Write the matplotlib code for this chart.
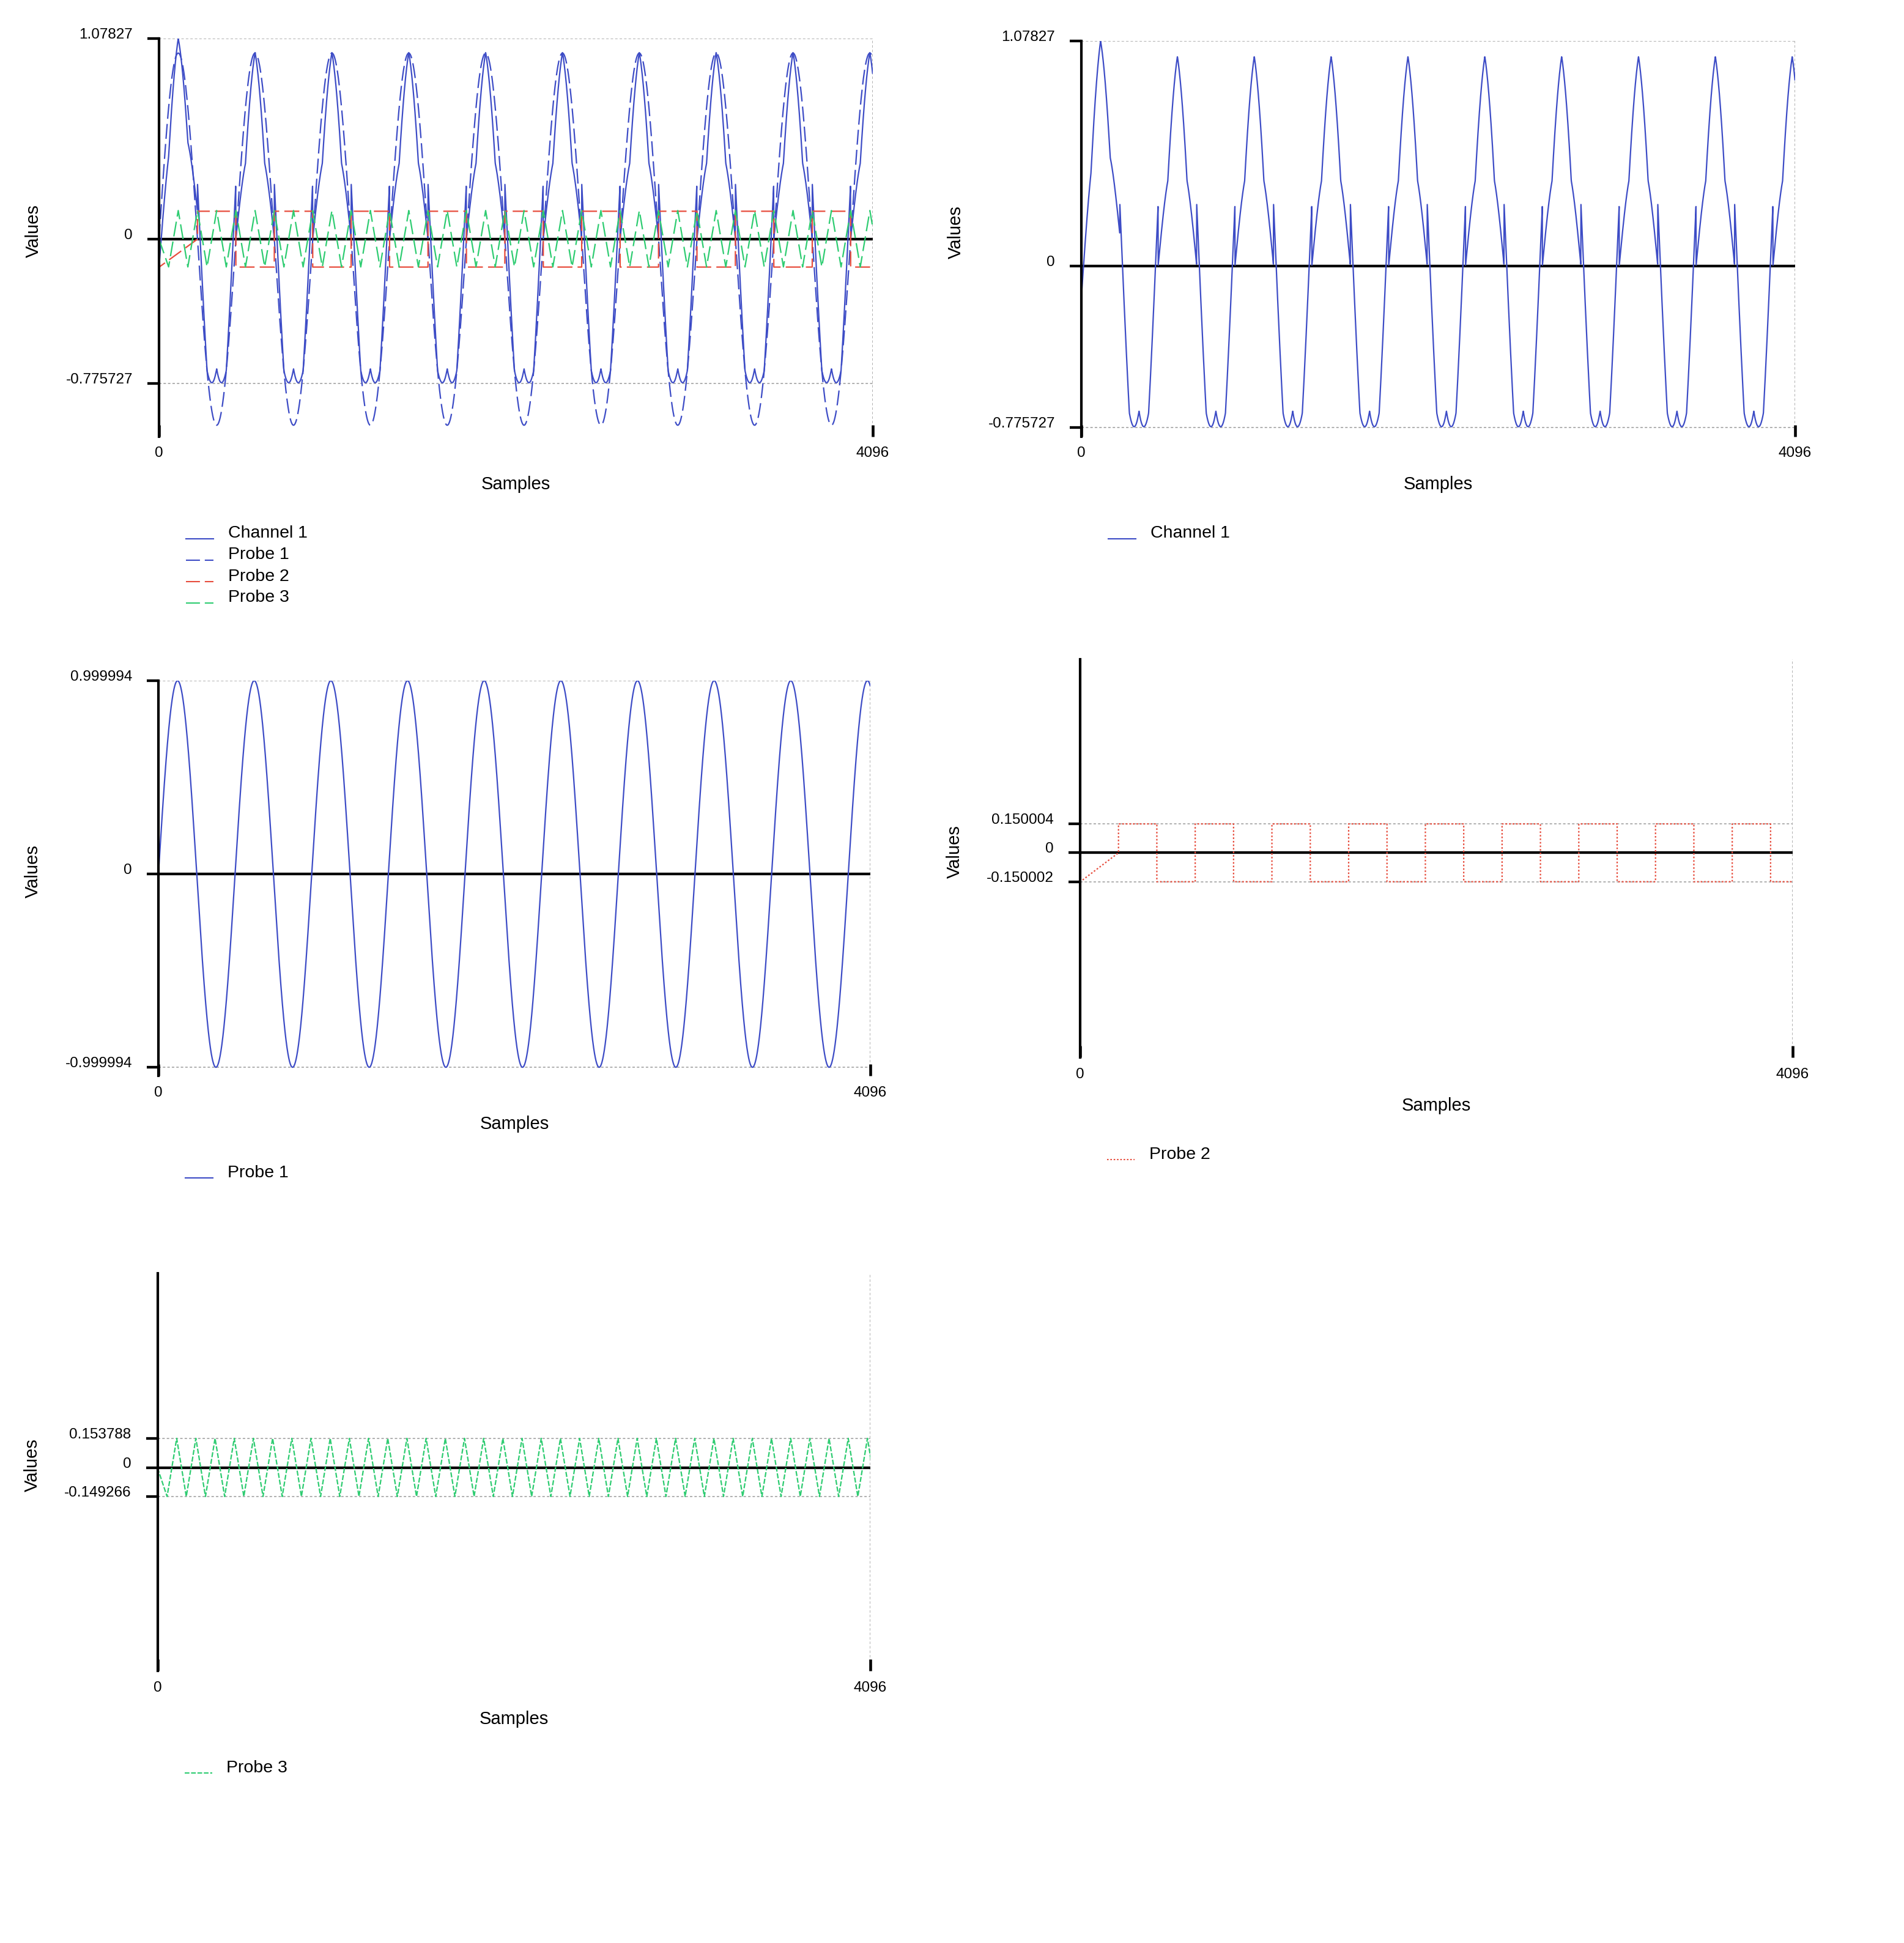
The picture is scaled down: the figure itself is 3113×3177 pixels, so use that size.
import numpy as np
import matplotlib.pyplot as plt
from matplotlib.lines import Line2D

plt.rcParams['font.family'] = ['Liberation Sans', 'DejaVu Sans']

# values
n_samples = 4096
x_ticks = [0, 4096]
x_labels = ['0', '4096']

probe1_amplitude = 0.999994
probe1_period = 441          # samples per cycle

probe2_high = 0.150004
probe2_low = -0.150002
probe2_half_period = 220.5   # samples between edges

probe3_peak = 0.153788
probe3_trough = -0.149266
probe3_half_period = 55.125  # samples between corners

ch1_ticks = [1.07827, 0, -0.775727]
ch1_labels = ['1.07827', '0', '-0.775727']
p1_ticks = [0.999994, 0, -0.999994]
p1_labels = ['0.999994', '0', '-0.999994']
p2_ticks = [0.150004, 0, -0.150002]
p2_labels = ['0.150004', '0', '-0.150002']
p3_ticks = [0.153788, 0, -0.149266]
p3_labels = ['0.153788', '0', '-0.149266']

BLUE = '#3d4cc6'
RED = '#e74c3c'
GREEN = '#2ecc71'
GRID = '#b0b0b0'

# build the signals
t = np.arange(n_samples)
probe1 = probe1_amplitude * np.sin(2 * np.pi * t / probe1_period)

# square wave corners (starts with a ramp up to the first edge)
p2_x = [0, 1, probe2_half_period]
p2_y = [0, probe2_low, 0]
level = probe2_high
edge = probe2_half_period
while edge < n_samples:
    nxt = edge + probe2_half_period
    p2_x += [edge, nxt]
    p2_y += [level, level]
    level = probe2_low if level == probe2_high else probe2_high
    edge = nxt

# triangle corners
p3_x = [0]
p3_y = [0]
j = 1
while p3_x[-1] < n_samples:
    p3_x.append(j * probe3_half_period)
    p3_y.append(probe3_trough if j % 2 else probe3_peak)
    j += 1

probe2 = np.interp(t, p2_x, p2_y)
probe3 = np.interp(t, p3_x, p3_y)
channel1 = probe1 + probe2 + probe3

# layout in pixels
W, H = 3113, 3177
DPI = 100
fig = plt.figure(figsize=(W / DPI, H / DPI), dpi=DPI)

LONG_DASH = (0, (11, 3.8))
SHORT_DASH = (0, (3.7, 1.3))
DOTS = (0, (1.2, 1.4))


def px_axes(x0, x1, top, bottom):
    return fig.add_axes([x0 / W, 1 - bottom / H, (x1 - x0) / W, (bottom - top) / H])


def setup(ax, box, ticks, labels, ylim):
    x0, x1, top, bottom = box
    ax.set_xlim(0, n_samples)
    ax.set_ylim(*ylim)
    for s in ['top', 'right', 'bottom']:
        ax.spines[s].set_visible(False)
    ax.spines['left'].set_linewidth(3)
    ax.spines['left'].set_zorder(4)
    ax.set_yticks(ticks, labels=labels, va='baseline')
    ax.set_xticks(x_ticks, labels=x_labels)
    ax.tick_params(axis='y', direction='out', length=13.9, width=3.1, pad=17, labelsize=17.5)
    ax.tick_params(axis='x', direction='in', length=13.9, width=3.3, pad=12, labelsize=17.5)
    for v in ticks:
        if v != 0:
            ax.axhline(v, color=GRID, lw=1.4, ls=(0, (2.06, 1.7)), zorder=1)
    ax.axvline(n_samples, color=GRID, lw=1.4, ls=(0, (2.06, 1.7)), zorder=1)
    ax.axhline(0, color='black', lw=3.1, zorder=1.5)
    ax.patch.set_alpha(0)
    fig.text((x0 + x1) / 2 / W, 1 - (bottom + 79) / H, 'Samples',
             ha='center', va='center', fontsize=21)
    fig.text((x0 - 205) / W, 1 - ((top + bottom) / 2 - 11) / H, 'Values',
             ha='center', va='center', rotation=90, fontsize=21)


def legend(box, entries):
    x0, x1, top, bottom = box
    for i, (label, color, ls) in enumerate(entries):
        yb = bottom + 155 + 35 * i + 11
        fig.add_artist(Line2D([(x0 + 44) / W, (x0 + 89) / W],
                              [1 - (yb + 1) / H, 1 - (yb + 1) / H],
                              color=color, lw=1.5, ls=ls, transform=fig.transFigure))
        fig.text((x0 + 113) / W, 1 - yb / H, label, ha='left', va='baseline', fontsize=20.5)


# Channel 1 with probes
box = (260, 1427, 63, 713.5)
ax = px_axes(*box)
setup(ax, box, ch1_ticks, ch1_labels, (-1.06, 1.07827))
ax.plot(t, channel1, color=BLUE, lw=1.6, zorder=3)
ax.plot(t, probe1, color=BLUE, lw=1.6, ls=LONG_DASH, zorder=3)
ax.plot(p2_x, p2_y, color=RED, lw=1.6, ls=LONG_DASH, zorder=3)
ax.plot(p3_x, p3_y, color=GREEN, lw=1.6, ls=LONG_DASH, zorder=3)
legend(box, [('Channel 1', BLUE, '-'), ('Probe 1', BLUE, LONG_DASH),
             ('Probe 2', RED, LONG_DASH), ('Probe 3', GREEN, LONG_DASH)])

# Channel 1 alone
box = (1768, 2935, 67, 713.5)
ax = px_axes(*box)
setup(ax, box, ch1_ticks, ch1_labels, (-0.818, 1.07827))
ax.plot(t, channel1, color=BLUE, lw=1.6, zorder=3)
legend(box, [('Channel 1', BLUE, '-')])

# Probe 1
box = (259, 1423, 1113, 1759)
ax = px_axes(*box)
setup(ax, box, p1_ticks, p1_labels, (-1.044, 0.999994))
ax.plot(t, probe1, color=BLUE, lw=1.6, zorder=3)
legend(box, [('Probe 1', BLUE, '-')])

# Probe 2
box = (1766, 2931, 1077.5, 1729)
ax = px_axes(*box)
setup(ax, box, p2_ticks, p2_labels, (-1.062, 1.006))
ax.plot(p2_x, p2_y, color=RED, lw=1.6, ls=DOTS, zorder=3)
legend(box, [('Probe 2', RED, DOTS)])

# Probe 3
box = (257.5, 1423, 2082, 2732)
ax = px_axes(*box)
setup(ax, box, p3_ticks, p3_labels, (-1.058, 1.014))
ax.plot(p3_x, p3_y, color=GREEN, lw=1.6, ls=SHORT_DASH, zorder=3)
legend(box, [('Probe 3', GREEN, SHORT_DASH)])

fig.savefig('out.png', dpi=DPI)
